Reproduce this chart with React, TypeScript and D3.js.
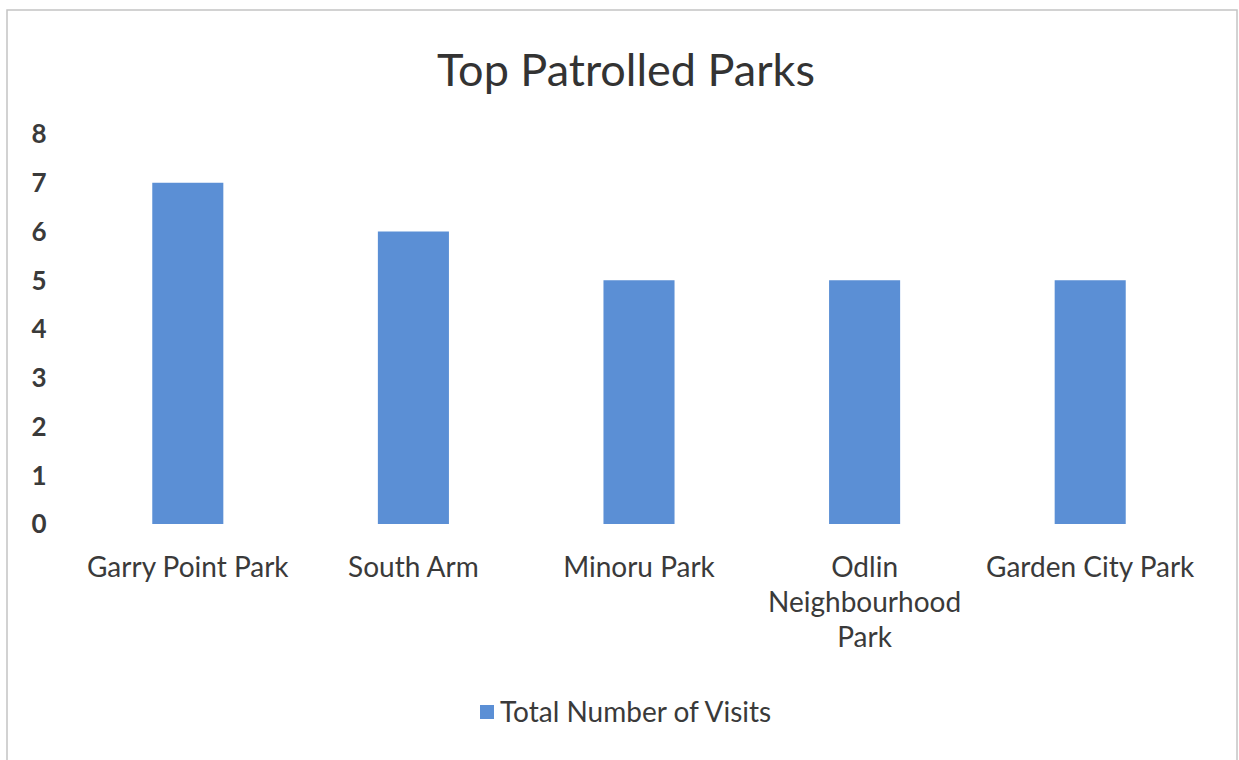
import * as d3 from "d3";

const parks = ["Garry Point Park", "South Arm", "Minoru Park", "Odlin Neighbourhood Park", "Garden City Park"];
const visits = [7, 6, 5, 5, 5];
const yTicks = [0, 1, 2, 3, 4, 5, 6, 7, 8];
const seriesName = "Total Number of Visits";
const chartTitle = "Top Patrolled Parks";

// wrapped label lines, as drawn in the reference
const labelLines: Record<string, string[]> = {
  "Odlin Neighbourhood Park": ["Odlin", "Neighbourhood", "Park"],
};

const W = 1239;
const H = 760;
const font = "Lato, 'Open Sans', sans-serif";
const barColor = "#5b8fd5";
const textColor = "#3a3a3a";

export default function App() {
  const x = d3.scaleBand<string>().domain(parks).range([75, 1203]).padding(0);
  const y = d3.scaleLinear().domain([0, 8]).range([524, 134]);
  const barW = x.bandwidth() * 0.315;

  return (
    <div style={{ position: "absolute", left: 0, top: 0 }}>
      <svg width={W} height={H} style={{ display: "block", background: "#fff" }}>
        <rect x={7} y={10} width={1230} height={760} fill="#fff" stroke="#c4c4c4" strokeWidth={1.5} />
        <text x={626} y={86} textAnchor="middle" fontFamily={font} fontSize={45} fill="#333">
          {chartTitle}
        </text>

        {yTicks.map((t) => (
          <text key={t} x={39} y={y(t)} dy="0.36em" textAnchor="middle" fontFamily={font}
            fontSize={26} fontWeight={700} fill={textColor}>
            {t}
          </text>
        ))}

        {parks.map((p, i) => (
          <rect key={p} x={(x(p) ?? 0) + x.bandwidth() / 2 - barW / 2} y={y(visits[i])}
            width={barW} height={y(0) - y(visits[i])} fill={barColor} />
        ))}

        {parks.map((p) => {
          const cx = (x(p) ?? 0) + x.bandwidth() / 2;
          const lines = labelLines[p] ?? [p];
          return (
            <text key={p} x={cx} y={577} textAnchor="middle"
              fontFamily={font} fontSize={28} fill={textColor}>
              {lines.map((l, j) => (
                <tspan key={j} x={cx} dy={j === 0 ? 0 : 35}>{l}</tspan>
              ))}
            </text>
          );
        })}

        <rect x={480} y={705} width={14} height={14} fill={barColor} />
        <text x={500} y={712} dy="0.36em" fontFamily={font} fontSize={28} fill={textColor}>
          {seriesName}
        </text>
      </svg>
    </div>
  );
}
